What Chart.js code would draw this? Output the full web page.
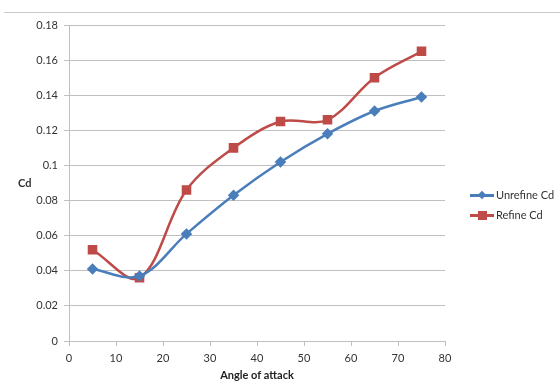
<!DOCTYPE html>
<html>
<head>
<meta charset="utf-8">
<script src="https://cdn.jsdelivr.net/npm/chart.js@4/dist/chart.umd.min.js"></script>
<style>
  body { margin: 0; background: #fff; font-family: Lato, "Open Sans", sans-serif; }
  #wrap { position: relative; width: 560px; height: 392px; }
  #topline { position: absolute; left: 4px; right: 0; top: 12px; border-top: 1px solid #c8c8c8; }
  #ytitle { position: absolute; left: 18px; top: 176px; font-size: 11px; font-weight: bold; color: #333; }
  #legend { position: absolute; left: 470px; top: 188px; font-size: 11px; color: #333; }
  .item { position: relative; height: 20px; line-height: 14px; padding-left: 26px; }
  .item .ln { position: absolute; left: 0; top: 6px; width: 24px; height: 3px; }
  .item .mk { position: absolute; }
</style>
</head>
<body>
<div id="wrap">
  <div id="topline"></div>
  <canvas id="cdChart" width="560" height="392"></canvas>
  <div id="ytitle">Cd</div>
  <div id="legend">
    <div class="item"><span class="ln" style="background:#4a7ebb"></span><span class="mk" style="left:9px;top:4px;width:6px;height:6px;background:#4a7ebb;transform:rotate(45deg)"></span>Unrefine Cd</div>
    <div class="item"><span class="ln" style="background:#be4b48"></span><span class="mk" style="left:8px;top:3px;width:9px;height:9px;background:#be4b48"></span>Refine Cd</div>
  </div>
</div>
<script>
// Angle of attack vs drag coefficient
const angles = [5, 15, 25, 35, 45, 55, 65, 75];
const unrefineCd = [0.041, 0.037, 0.061, 0.083, 0.102, 0.118, 0.131, 0.139];
const refineCd = [0.052, 0.036, 0.086, 0.110, 0.125, 0.126, 0.150, 0.165];

const font = { family: 'Lato, "Open Sans", sans-serif', size: 11 };

const ctx = document.getElementById('cdChart').getContext('2d');
new Chart(ctx, {
    type: 'line',
    data: {
        datasets: [{
            label: 'Unrefine Cd',
            data: angles.map((a, i) => ({ x: a, y: unrefineCd[i] })),
            borderColor: '#4a7ebb',
            backgroundColor: '#4a7ebb',
            borderWidth: 2.5,
            pointStyle: 'rectRot',
            pointRadius: 4,
            tension: 0.35
        }, {
            label: 'Refine Cd',
            data: angles.map((a, i) => ({ x: a, y: refineCd[i] })),
            borderColor: '#be4b48',
            backgroundColor: '#be4b48',
            borderWidth: 2.5,
            pointStyle: 'rect',
            pointRadius: 5,
            tension: 0.35
        }]
    },
    options: {
        responsive: false,
        animation: false,
        layout: { padding: { left: 0, right: 115, top: 25, bottom: 0 } },
        plugins: {
            legend: { display: false },
            tooltip: { enabled: false }
        },
        scales: {
            x: {
                type: 'linear',
                min: 0,
                max: 80,
                ticks: { stepSize: 10, color: '#333', font: font, padding: 6 },
                grid: { drawOnChartArea: false, drawTicks: true, tickLength: 5, color: '#bfbfbf' },
                border: { color: '#bfbfbf' },
                title: { display: true, text: 'Angle of attack', color: '#222', font: { ...font, weight: 'bold' }, padding: { top: 4, bottom: 10 } },
                afterFit: s => { s.height = 51; }
            },
            y: {
                min: 0,
                max: 0.18,
                ticks: {
                    stepSize: 0.02,
                    color: '#333',
                    font: font,
                    padding: 6,
                    callback: v => String(+v.toFixed(2))
                },
                grid: { color: '#bfbfbf', tickLength: 5 },
                border: { color: '#bfbfbf' },
                afterFit: s => { s.width = 69; }
            }
        }
    }
});
</script>
</body>
</html>
